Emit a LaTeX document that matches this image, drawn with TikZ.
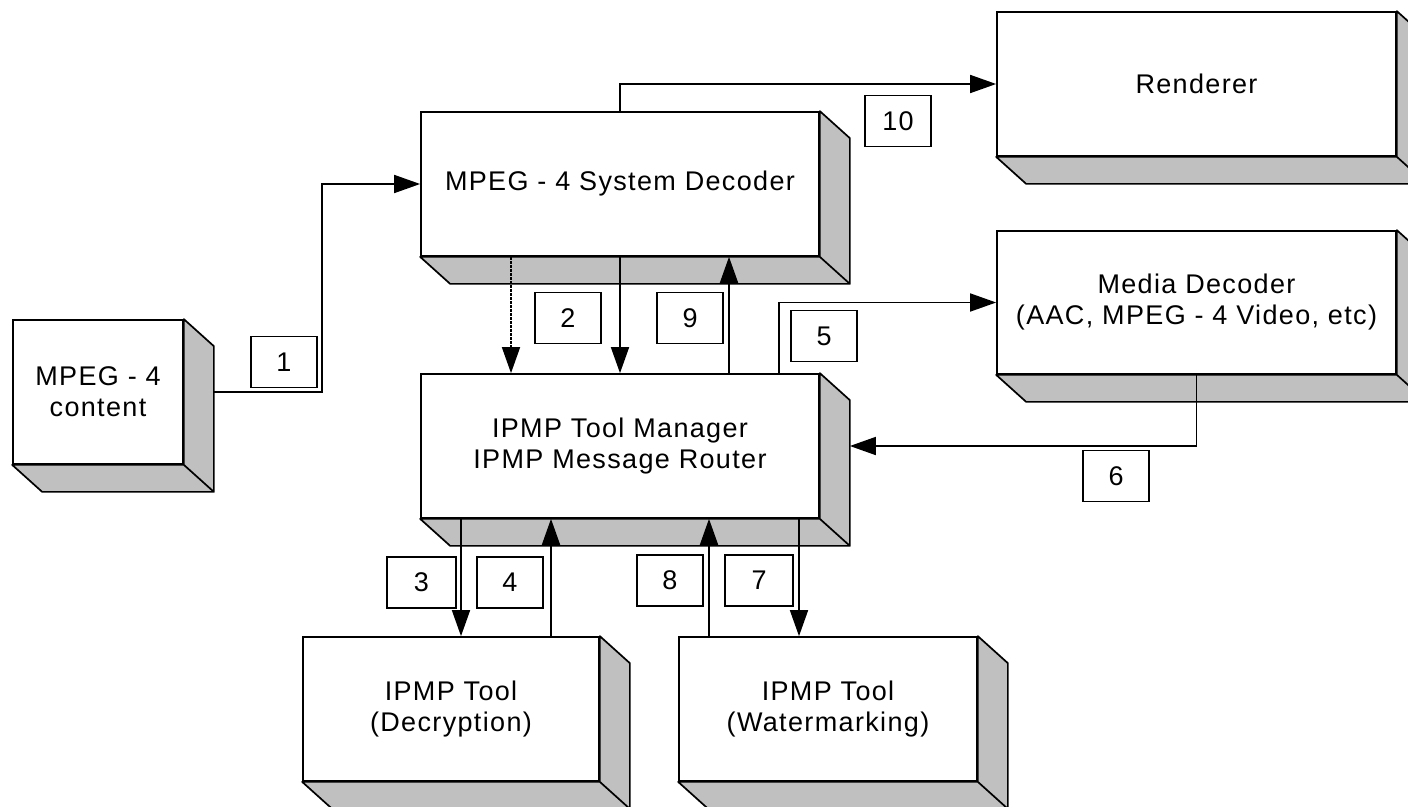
\documentclass[tikz,border=0pt]{standalone}
\usepackage{fontspec}
\setmainfont{Liberation Sans}[LetterSpace=5]
\usepackage{tikz}
\usetikzlibrary{arrows.meta,positioning,calc}
\definecolor{boxshade}{HTML}{C0C0C0}
% gray side and bottom faces of a block
\newcommand{\depthbox}[1]{%
  \filldraw[fill=boxshade, line width=1.7pt, line join=round]
    (#1.north east) -- ++(30,27) -- ($(#1.south east)+(30,27)$) -- (#1.south east) -- cycle
    (#1.south west) -- ++(30,27) -- ($(#1.south east)+(30,27)$) -- (#1.south east) -- cycle;}
\tikzset{
  blk/.style={draw, fill=white, line width=1.7pt, inner sep=0pt, align=center, minimum height=144pt},
  tag/.style={draw, line width=1.5pt, minimum width=66pt, minimum height=51pt, inner sep=0pt},
  arr/.style={line width=1.7pt, -{Triangle[length=26pt,width=18pt]}},
}

\begin{document}
\begin{tikzpicture}[x=1pt, y=-1pt, every node/.style={font=\fontsize{27}{31}\selectfont}]
  \useasboundingbox (0,0) rectangle (1408,806);

  % Blocks
  \node[blk, minimum width=170pt] (content) at (98,392) {MPEG - 4\\content};
  \node[blk, minimum width=398pt] (sysdec) at (620,184) {MPEG - 4 System Decoder};
  \node[blk, minimum width=399pt] (render) at (1196.5,84) {Renderer};
  \node[blk, minimum width=399pt, minimum height=143pt] (meddec) at (1196.5,302.5) {Media Decoder\\(AAC, MPEG - 4 Video, etc)};
  \node[blk, minimum width=398pt] (mgr) at (620,446) {IPMP Tool Manager\\IPMP Message Router};
  \node[blk, minimum width=296pt] (crypt) at (451,709) {IPMP Tool\\(Decryption)};
  \node[blk, minimum width=298pt] (wmark) at (828,709) {IPMP Tool\\(Watermarking)};
  \foreach \b in {content,sysdec,render,meddec,mgr,crypt,wmark} {\depthbox{\b}}

  % Connectors
  \draw[arr] ([xshift=30pt]content.east) -- ++(108,0) |- (sysdec.west);
  \draw[arr, line width=1.6pt, dash pattern=on 3pt off 1pt] ([xshift=-109pt]sysdec.south) -- ([xshift=-109pt]mgr.north);
  \draw[arr] (sysdec.south) -- (mgr.north);
  \draw[arr] ([xshift=109pt]mgr.north) -- ([xshift=109pt]sysdec.south);
  \draw[arr] ([xshift=159pt]mgr.north) |- (meddec.west);
  \draw[arr] (meddec.south) |- ([xshift=30pt]mgr.east);
  \draw[arr] (sysdec.north) |- (render.west);
  \coordinate (p3) at ([xshift=-159pt]mgr.south);
  \coordinate (p4) at ([xshift=100pt]crypt.north);
  \coordinate (p8) at ([xshift=-119pt]wmark.north);
  \coordinate (p7) at ([xshift=179pt]mgr.south);
  \draw[arr] (p3) -- (p3 |- crypt.north);
  \draw[arr] (p4) -- (p4 |- mgr.south);
  \draw[arr] (p8) -- (p8 |- mgr.south);
  \draw[arr] (p7) -- (p7 |- wmark.north);

  % Step numbers
  \node[tag] (n1) at (284,362) {1};
  \node[tag] (n2) at (568,318) {2};
  \node[tag, minimum width=69pt] (n3) at (421.5,582.5) {3};
  \node[tag] (n4) at (510,582.5) {4};
  \node[tag] (n5) at (824,336) {5};
  \node[tag] (n6) at (1116,476) {6};
  \node[tag, minimum width=68pt] (n7) at (759,580.5) {7};
  \node[tag] (n8) at (670,580.5) {8};
  \node[tag] (n9) at (690,318) {9};
  \node[tag] (n10) at (898,121) {10};
\end{tikzpicture}
\end{document}
